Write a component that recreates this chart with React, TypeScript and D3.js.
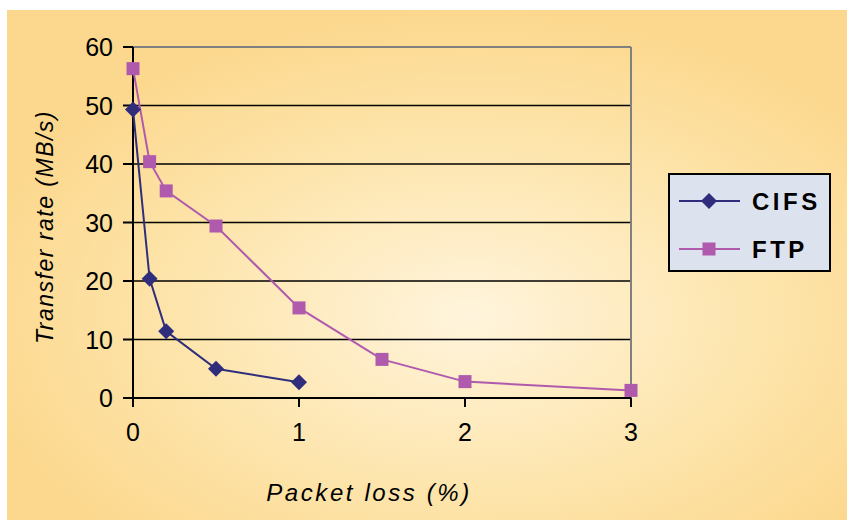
import React from "react";
import * as d3 from "d3";

const cifsX = [0, 0.1, 0.2, 0.5, 1];
const cifsY = [49.3, 20.4, 11.4, 5.0, 2.7];
const ftpX = [0, 0.1, 0.2, 0.5, 1, 1.5, 2, 3];
const ftpY = [56.3, 40.4, 35.4, 29.4, 15.4, 6.6, 2.8, 1.3];
const xTicks = [0, 1, 2, 3];
const yTicks = [0, 10, 20, 30, 40, 50, 60];
const seriesNames = ["CIFS", "FTP"];

const W = 847, H = 520;
const left = 133, right = 631, top = 47, bottom = 398;

export default function App() {
  const x = d3.scaleLinear().domain([0, 3]).range([left, right]);
  const y = d3.scaleLinear().domain([0, 60]).range([bottom, top]);
  const line = d3.line<[number, number]>().x(d => x(d[0])).y(d => y(d[1]));
  const cifs: [number, number][] = cifsX.map((v, i) => [v, cifsY[i]]);
  const ftp: [number, number][] = ftpX.map((v, i) => [v, ftpY[i]]);
  const cifsColor = "#2f2d7c";
  const ftpColor = "#b05aae";
  const diamond = (cx: number, cy: number, r: number) =>
    `M${cx},${cy - r}L${cx + r},${cy}L${cx},${cy + r}L${cx - r},${cy}Z`;
  const font = "'Liberation Sans', Arial, sans-serif";
  return (
    <svg width={W} height={H} style={{ position: "absolute", left: 0, top: 0 }} fontFamily={font}>
      <defs>
        <radialGradient id="bg" cx="0.55" cy="0.6" r="0.6" gradientUnits="objectBoundingBox">
          <stop offset="0" stopColor="#fff4dc" />
          <stop offset="0.6" stopColor="#fde4aa" />
          <stop offset="1" stopColor="#fcd88e" />
        </radialGradient>
      </defs>
      <rect x={7} y={10} width={840} height={510} fill="url(#bg)" />
      {yTicks.filter(t => t > 0 && t < 60).map(t => (
        <line key={t} x1={left} x2={right} y1={y(t)} y2={y(t)} stroke="#000" strokeWidth={1.5} />
      ))}
      <line x1={left} x2={right} y1={top} y2={top} stroke="#808080" strokeWidth={2} />
      <line x1={right} x2={right} y1={top} y2={bottom} stroke="#808080" strokeWidth={2} />
      <line x1={left} x2={left} y1={top} y2={bottom} stroke="#000" strokeWidth={2} />
      <line x1={left} x2={right} y1={bottom} y2={bottom} stroke="#000" strokeWidth={2} />
      {yTicks.map(t => (
        <g key={t}>
          <line x1={left - 10} x2={left} y1={y(t)} y2={y(t)} stroke="#000" strokeWidth={2} />
          <text x={113} y={y(t)} dy="0.36em" textAnchor="end" fontSize={25} fill="#000">{t}</text>
        </g>
      ))}
      {xTicks.map(t => (
        <g key={t}>
          <line x1={x(t)} x2={x(t)} y1={bottom} y2={bottom + 9} stroke="#000" strokeWidth={2} />
          <text x={x(t)} y={441} textAnchor="middle" fontSize={25} fill="#000">{t}</text>
        </g>
      ))}
      <text transform={`translate(53,227) rotate(-90)`} textAnchor="middle" fontSize={23} fontStyle="italic" letterSpacing={1.5} fill="#000">
        Transfer rate (MB/s)
      </text>
      <text x={369} y={501} textAnchor="middle" fontSize={24} fontStyle="italic" letterSpacing={2.6} fill="#000">
        Packet loss (%)
      </text>
      <path d={line(ftp) || ""} fill="none" stroke={ftpColor} strokeWidth={2} />
      {ftp.map((d, i) => (
        <rect key={i} x={x(d[0]) - 6.5} y={y(d[1]) - 6.5} width={13} height={13} fill={ftpColor} />
      ))}
      <path d={line(cifs) || ""} fill="none" stroke={cifsColor} strokeWidth={2} />
      {cifs.map((d, i) => (
        <path key={i} d={diamond(x(d[0]), y(d[1]), 8)} fill={cifsColor} />
      ))}
      <rect x={669} y={174} width={161} height={97} fill="#dde3ee" stroke="#000" strokeWidth={2} />
      {seriesNames.map((n, i) => {
        const ly = i === 0 ? 201 : 249;
        const c = i === 0 ? cifsColor : ftpColor;
        return (
          <g key={n}>
            <line x1={679} x2={740} y1={ly} y2={ly} stroke={c} strokeWidth={2} />
            {i === 0 ? (
              <path d={diamond(709, ly, 8)} fill={c} />
            ) : (
              <rect x={702.5} y={ly - 6.5} width={13} height={13} fill={c} />
            )}
            <text x={752} y={ly} dy="0.36em" fontSize={24} fontWeight="bold" letterSpacing={3.5} fill="#000">{n}</text>
          </g>
        );
      })}
    </svg>
  );
}
